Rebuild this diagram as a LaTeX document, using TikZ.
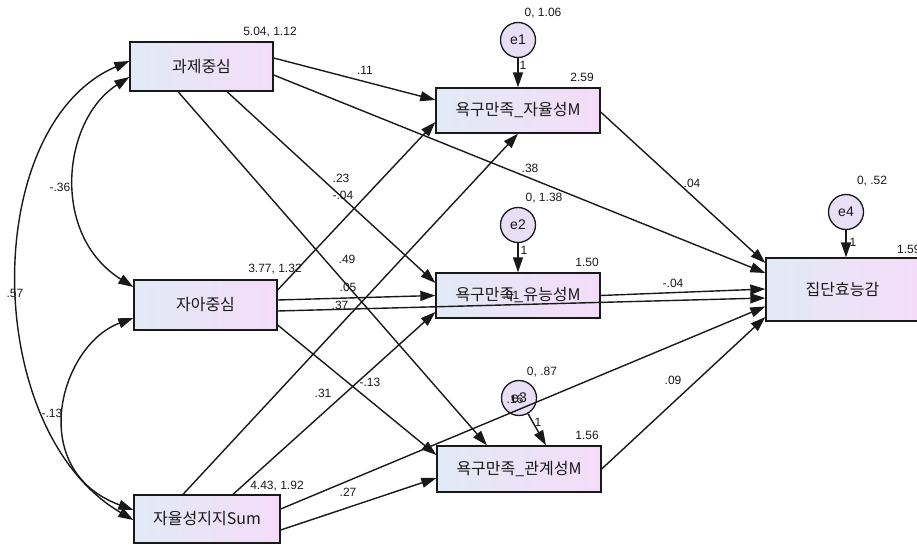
\documentclass[tikz,border=0pt]{standalone}
\usepackage{fontspec}
\setmainfont{Liberation Sans}
\newfontfamily\kr{Noto Sans CJK KR}
\usetikzlibrary{arrows.meta,calc}
\definecolor{boxL}{RGB}{226,234,246}
\definecolor{boxR}{RGB}{244,220,248}
\definecolor{errfill}{RGB}{232,222,246}
\definecolor{ink}{RGB}{25,25,25}
\begin{document}
\begin{tikzpicture}[x=1pt,y=-1pt,
  box/.style={draw=ink, line width=1.3pt, rectangle, inner sep=0pt,
    left color=boxL, right color=boxR, text=ink,
    font=\kr\fontsize{16}{16}\selectfont},
  err/.style={draw=ink, line width=1.3pt, circle, inner sep=0pt,
    minimum size=35pt, fill=errfill, text=ink,
    font=\fontsize{14}{14}\selectfont},
  lab/.style={inner sep=0pt, text=ink, font=\fontsize{12}{12}\selectfont},
  pth/.style={draw=ink, line width=1.4pt, -{Triangle[length=15pt,width=10pt]}},
  cov/.style={draw=ink, line width=1.4pt, {Triangle[length=15pt,width=10pt]}-{Triangle[length=15pt,width=10pt]}}
]
\useasboundingbox (0,0) rectangle (917,545);

% boxes
\node[box, minimum width=143pt, minimum height=49pt] (tc) at (201.5,66.5) {과제중심};
\node[box, minimum width=143pt, minimum height=50pt] (ja) at (205.5,305) {자아중심};
\node[box, minimum width=146pt, minimum height=48pt] (sm) at (207,519) {자율성지지Sum};
\node[box, minimum width=164pt, minimum height=45pt] (m1) at (518,110.5) {욕구만족\_자율성M};
\node[box, minimum width=164pt, minimum height=45pt] (m2) at (518,295.5) {욕구만족\_유능성M};
\node[box, minimum width=164pt, minimum height=46pt] (m3) at (519,469) {욕구만족\_관계성M};
\node[box, minimum width=153pt, minimum height=63pt] (y4) at (842.5,289.5) {집단효능감};

% error circles
\node[err] (e1) at (518,40) {e1};
\node[err] (e2) at (518,225) {e2};
\node[err] (e3) at (519,398) {e3};
\node[err] (e4) at (846,212) {e4};

% paths
\draw[pth] ($(tc.east)+(0,-8.5)$) -- ($(m1.west)+(0,-10.5)$);
\draw[pth] ($(tc.east)+(0,8.5)$) -- ($(y4.west)+(0,-16.5)$);
\draw[pth] ($(tc.south)+(25.5,0)$) -- ($(m2.west)+(0,-12.5)$);
\draw[pth] ($(tc.south)+(-23.5,0)$) -- ($(m3.north)+(-32,0)$);
\draw[pth] ($(ja.east)+(0,-15)$) -- ($(m1.west)+(0,11.5)$);
\draw[pth] ($(ja.east)+(0,-5)$) -- (m2.west);
\draw[pth] ($(ja.east)+(0,6)$) -- ($(y4.west)+(0,8.5)$);
\draw[pth] ($(ja.east)+(0,20)$) -- ($(m3.west)+(0,-14)$);
\draw[pth] ($(sm.north)+(-24,0)$) -- (m1.south);
\draw[pth] ($(sm.north)+(26,0)$) -- ($(m2.west)+(0,16.5)$);
\draw[pth] ($(sm.east)+(0,-10)$) -- ($(y4.west)+(0,17)$);
\draw[pth] ($(sm.east)+(0,11)$) -- ($(m3.west)+(0,9)$);
\draw[pth] ($(m1.east)+(0,1.5)$) -- ($(y4.west)+(0,-26.5)$);
\draw[pth] (m2.east) -- ($(y4.west)+(0,-0.5)$);
\draw[pth] (m3.east) -- ($(y4.west)+(0,27.5)$);

% error paths
\draw[pth] (e1) -- (m1.north);
\draw[pth] (e2) -- (m2.north);
\draw[pth] (e3) -- ($(m3.north)+(27,0)$);
\draw[pth] (e4) -- ($(y4.north)+(3.5,0)$);

% covariances
\draw[cov] ($(tc.west)+(0,-5.5)$) .. controls (-20,125) and (-20,430) .. ($(sm.west)+(0,1)$);
\draw[cov] ($(tc.west)+(0,10.5)$) .. controls (62,120) and (50,235) .. ($(ja.west)+(0,-18)$);
\draw[cov] ($(ja.west)+(0,13)$) .. controls (60,345) and (25,470) .. ($(sm.west)+(0,-9)$);

% labels: means/variances
\node[lab] (l1) at (270,32) {5.04, 1.12};
\node[lab] (l2) at (275,269) {3.77, 1.32};
\node[lab] (l3) at (277,486) {4.43, 1.92};
\node[lab] (l4) at (543,13) {0, 1.06};
\node[lab] (l5) at (544,198) {0, 1.38};
\node[lab] (l6) at (542,372) {0, .87};
\node[lab] (l7) at (872,181) {0, .52};
\node[lab] (l8) at (582,77) {2.59};
\node[lab] (l9) at (587,262) {1.50};
\node[lab] (l10) at (587,435) {1.56};
\node[lab, anchor=west] (l11) at (897,249) {1.59};

% labels: error weights
\node[lab] (w1) at (523,65) {1};
\node[lab] (w2) at (524,250) {1};
\node[lab] (w3) at (538,422) {1};
\node[lab] (w4) at (853,242) {1};

% labels: path coefficients
\node[lab] (p1) at (365,70) {.11};
\node[lab] (p2) at (530,168) {.38};
\node[lab] (p3) at (341,178) {.23};
\node[lab] (p4) at (343,195) {-.04};
\node[lab] (p5) at (347,259) {.49};
\node[lab] (p6) at (348,287) {.05};
\node[lab] (p7) at (340,305) {.37};
\node[lab] (p8) at (511,295) {.01};
\node[lab] (p9) at (370,382) {-.13};
\node[lab] (p10) at (323,393) {.31};
\node[lab] (p11) at (515,399) {.16};
\node[lab] (p12) at (348,492) {.27};
\node[lab] (p13) at (692,183) {.04};
\node[lab] (p14) at (673,283) {-.04};
\node[lab] (p15) at (673,380) {.09};

% labels: covariances
\node[lab] (c1) at (60,187) {-.36};
\node[lab] (c2) at (15,293) {.57};
\node[lab] (c3) at (52,413) {-.13};
\end{tikzpicture}
\end{document}
